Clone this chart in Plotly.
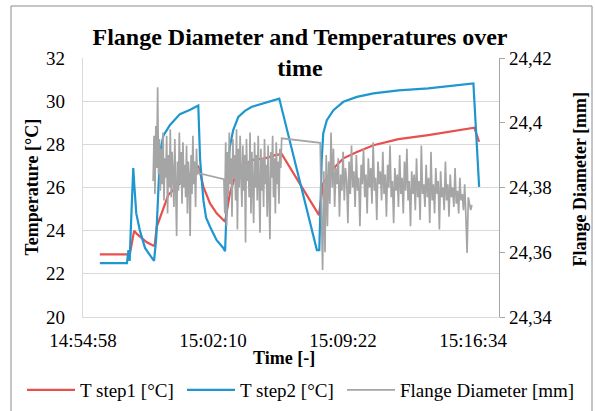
import plotly.graph_objects as go
import pandas as pd

DAY = "2020-01-01 "

# ---- Temperatures (time, value) ----
t1_times = ["14:55:54", "14:57:24", "14:57:34", "14:57:41", "14:57:48", "14:57:57", "14:58:07",
            "14:58:30", "14:58:52", "14:58:56", "14:59:03", "14:59:19", "14:59:41", "15:00:20",
            "15:00:54", "15:01:21", "15:01:27", "15:01:38", "15:02:00", "15:02:22", "15:02:50",
            "15:03:06", "15:03:23", "15:03:51", "15:04:19", "15:05:03", "15:05:36", "15:05:58",
            "15:08:02", "15:08:16", "15:08:50", "15:09:23", "15:10:08", "15:11:03", "15:12:26",
            "15:14:05", "15:15:56", "15:16:38", "15:16:54"]
t1_values = [22.9, 22.9, 22.95, 23.5, 24.0, 23.85, 23.72,
             23.46, 23.3, 23.3, 24.18, 24.8, 25.65, 26.19,
             26.65, 26.96, 26.7, 26.03, 25.26, 24.8, 24.41,
             25.73, 26.5, 27.04, 27.27, 27.35, 27.5, 27.55,
             24.72, 26.19, 26.88, 27.35, 27.65, 27.96, 28.24,
             28.43, 28.66, 28.77, 28.12]

t2_times = ["14:55:54", "14:57:24", "14:57:29", "14:57:33", "14:57:38", "14:57:45", "14:57:49",
            "14:57:55", "14:58:07", "14:58:24", "14:58:41", "14:58:54", "14:59:01", "14:59:07",
            "14:59:14", "14:59:25", "14:59:47", "15:00:20", "15:00:54", "15:01:21", "15:01:27",
            "15:01:38", "15:01:47", "15:02:00", "15:02:22", "15:02:44", "15:02:50", "15:02:55",
            "15:03:00", "15:03:06", "15:03:17", "15:03:34", "15:03:56", "15:04:19", "15:05:03",
            "15:05:50", "15:07:55", "15:08:03", "15:08:11", "15:08:16", "15:08:28", "15:08:50",
            "15:09:23", "15:10:08", "15:11:03", "15:12:26", "15:14:05", "15:15:56", "15:16:35",
            "15:16:54"]
t2_values = [22.5, 22.5, 23.1, 22.6, 24.5, 26.9, 26.0,
             24.8, 24.0, 23.2, 22.85, 22.6, 23.6, 25.8,
             27.6, 28.4, 28.9, 29.4, 29.6, 29.8, 27.3,
             25.4, 24.6, 24.18, 23.56, 23.2, 23.05, 25.0,
             27.0, 27.9, 28.66, 29.27, 29.55, 29.74, 29.92,
             30.12, 23.1, 23.1, 27.27, 28.5, 29.12, 29.58,
             29.97, 30.2, 30.36, 30.5, 30.59, 30.74, 30.82,
             26.03]

# ---- Flange diameter: three logged segments (start, sample step in s, values) ----
fd_a_start, fd_a_step = "14:58:51", 3
fd_a_values = [24.382, 24.396, 24.378, 24.399, 24.386, 24.411, 24.384, 24.395, 24.379, 24.392,
               24.381, 24.397, 24.376, 24.389, 24.383, 24.396, 24.372, 24.390, 24.380, 24.398,
               24.377, 24.391, 24.384, 24.374, 24.395, 24.382, 24.365, 24.388, 24.379, 24.397,
               24.381, 24.391, 24.375, 24.394, 24.380, 24.387, 24.377, 24.393, 24.372, 24.388,
               24.383, 24.365, 24.390, 24.378, 24.396, 24.381, 24.388, 24.374, 24.392, 24.384,
               24.386, 24.3844]
fd_b_start, fd_b_step = "15:02:46", 3
fd_b_values = [24.3826, 24.372, 24.394, 24.368, 24.391, 24.378, 24.397, 24.381, 24.389, 24.371,
               24.395, 24.383, 24.390, 24.376, 24.398, 24.367, 24.392, 24.380, 24.396, 24.384,
               24.374, 24.393, 24.379, 24.390, 24.363, 24.395, 24.382, 24.388, 24.377, 24.397,
               24.372, 24.391, 24.383, 24.369, 24.394, 24.380, 24.390, 24.376, 24.396, 24.384,
               24.366, 24.392, 24.379, 24.389, 24.374, 24.395, 24.381, 24.387, 24.371, 24.393,
               24.380, 24.364, 24.391, 24.383, 24.396, 24.377, 24.389, 24.372, 24.394, 24.381,
               24.388, 24.375, 24.392, 24.386, 24.3952]
fd_c_start, fd_c_step = "15:08:06", 4
fd_c_values = [24.3938, 24.372, 24.3545, 24.385, 24.360, 24.390, 24.368, 24.388, 24.375, 24.397,
               24.380, 24.392, 24.374, 24.386, 24.381, 24.389, 24.371, 24.384, 24.379, 24.391,
               24.376, 24.386, 24.382, 24.369, 24.388, 24.378, 24.393, 24.380, 24.385, 24.374,
               24.390, 24.379, 24.383, 24.368, 24.387, 24.381, 24.392, 24.377, 24.384, 24.372,
               24.389, 24.380, 24.386, 24.375, 24.394, 24.379, 24.383, 24.370, 24.388, 24.381,
               24.385, 24.376, 24.391, 24.378, 24.384, 24.371, 24.387, 24.380, 24.393, 24.377,
               24.382, 24.369, 24.386, 24.379, 24.384, 24.374, 24.390, 24.378, 24.383, 24.372,
               24.388, 24.379, 24.392, 24.376, 24.382, 24.368, 24.385, 24.378, 24.384, 24.373,
               24.389, 24.377, 24.382, 24.370, 24.393, 24.378, 24.381, 24.374, 24.387, 24.377,
               24.383, 24.369, 24.391, 24.376, 24.381, 24.372, 24.386, 24.378, 24.382, 24.367,
               24.385, 24.377, 24.380, 24.373, 24.388, 24.376, 24.381, 24.371, 24.384, 24.377,
               24.380, 24.374, 24.386, 24.375, 24.379, 24.372, 24.383, 24.376, 24.378, 24.373,
               24.381, 24.371, 24.3598, 24.377, 24.375, 24.373, 24.3746]

# ---- Axes ----
x_range = ["14:54:58", "15:18:00"]
x_ticks = ["14:54:58", "15:02:10", "15:09:22", "15:16:34"]
y1_ticks = [20, 22, 24, 26, 28, 30, 32]
y2_ticks = [24.34, 24.36, 24.38, 24.40, 24.42]
y2_ticklabels = ["24,34", "24,36", "24,38", "24,4", "24,42"]

series_names = ["T step1 [°C]", "T step2 [°C]", "Flange Diameter [mm]"]
colors = ["#E8504E", "#1E96D0", "#A5A5A5"]
title_text = "Flange Diameter and Temperatures over<br>time"
x_title = "Time [-]"
y1_title = "Temperature [°C]"
y2_title = "Flange Diameter [mm]"


def ts(s):
    return pd.Timestamp(DAY + s)


def seg_times(start, step, n):
    t0 = ts(start)
    return [t0 + pd.Timedelta(seconds=step * i) for i in range(n)]


fd_x = (seg_times(fd_a_start, fd_a_step, len(fd_a_values))
        + seg_times(fd_b_start, fd_b_step, len(fd_b_values))
        + seg_times(fd_c_start, fd_c_step, len(fd_c_values)))
fd_y = fd_a_values + fd_b_values + fd_c_values

FONT = "Liberation Serif, 'Times New Roman', Times, serif"

L, R, T, B = 83, 96, 58, 94
PW, PH = 595 - L - R, 411 - T - B


def px(x):
    return (x - L) / PW


def py(y):
    return (411 - B - y) / PH


fig = go.Figure()
fig.add_trace(go.Scatter(x=[ts(s) for s in t1_times], y=t1_values, mode="lines",
                         name=series_names[0], legend="legend",
                         line=dict(color=colors[0], width=2.2)))
fig.add_trace(go.Scatter(x=[ts(s) for s in t2_times], y=t2_values, mode="lines",
                         name=series_names[1], legend="legend2",
                         line=dict(color=colors[1], width=2.2)))
fig.add_trace(go.Scatter(x=fd_x, y=fd_y, mode="lines", yaxis="y2",
                         name=series_names[2], legend="legend3",
                         line=dict(color=colors[2], width=1.7)))

leg_common = dict(orientation="h", xanchor="left", y=py(390), yanchor="middle",
                  font=dict(size=19, family=FONT, color="#000000"),
                  bgcolor="rgba(0,0,0,0)", itemwidth=48)

fig.update_layout(
    width=595, height=411,
    margin=dict(l=L, r=R, t=T, b=B, autoexpand=False),
    paper_bgcolor="white", plot_bgcolor="white",
    font=dict(family=FONT, color="#000000", size=18),
    title=dict(text="<b>" + title_text + "</b>",
               font=dict(size=24, family=FONT, color="#000000"),
               x=px(300), xref="paper", xanchor="center",
               y=1 - 45 / 411, yref="container", yanchor="top"),
    xaxis=dict(type="date", range=[ts(x_range[0]), ts(x_range[1])],
               tickvals=[ts(s) for s in x_ticks], ticktext=x_ticks,
               showgrid=False, zeroline=False, showline=True, linecolor="#d9d9d9", linewidth=1.3,
               ticks="outside", ticklen=6, tickcolor="rgba(0,0,0,0)",
               tickfont=dict(size=19, family=FONT)),
    yaxis=dict(range=[20, 32], tickvals=y1_ticks, ticktext=[str(v) for v in y1_ticks],
               showgrid=True, gridcolor="#d9d9d9", gridwidth=1.3, zeroline=False,
               showline=True, linecolor="#d9d9d9", linewidth=1.3,
               ticks="outside", ticklen=13, tickcolor="rgba(0,0,0,0)",
               tickfont=dict(size=19, family=FONT)),
    yaxis2=dict(range=[24.34, 24.42], overlaying="y", side="right",
                tickvals=y2_ticks, ticktext=y2_ticklabels,
                showgrid=False, zeroline=False, showline=True, linecolor="#a6a6a6", linewidth=1.3,
                ticks="outside", ticklen=5, tickcolor="#a6a6a6", tickwidth=1.3,
                tickfont=dict(size=19, family=FONT)),
    legend=dict(leg_common, x=px(22)),
    legend2=dict(leg_common, x=px(182)),
    legend3=dict(leg_common, x=px(342)),
    showlegend=True,
    annotations=[
        dict(text="<b>" + y1_title + "</b>", xref="paper", yref="paper", x=px(31), y=py(187.5),
             xanchor="center", yanchor="middle", textangle=-90, showarrow=False,
             font=dict(size=18, family=FONT, color="#000000")),
        dict(text="<b>" + y2_title + "</b>", xref="paper", yref="paper", x=px(579), y=py(179.5),
             xanchor="center", yanchor="middle", textangle=-90, showarrow=False,
             font=dict(size=18, family=FONT, color="#000000")),
        dict(text="<b>" + x_title + "</b>", xref="paper", yref="paper", x=px(283.5), y=py(358),
             xanchor="center", yanchor="middle", showarrow=False,
             font=dict(size=18, family=FONT, color="#000000")),
    ],
    shapes=[dict(type="rect", xref="paper", yref="paper",
                 x0=px(11), x1=px(592), y0=py(414), y1=py(6),
                 line=dict(color="#8c8c8c", width=1), fillcolor="rgba(0,0,0,0)", layer="below")],
)

fig.write_html("out.html")
